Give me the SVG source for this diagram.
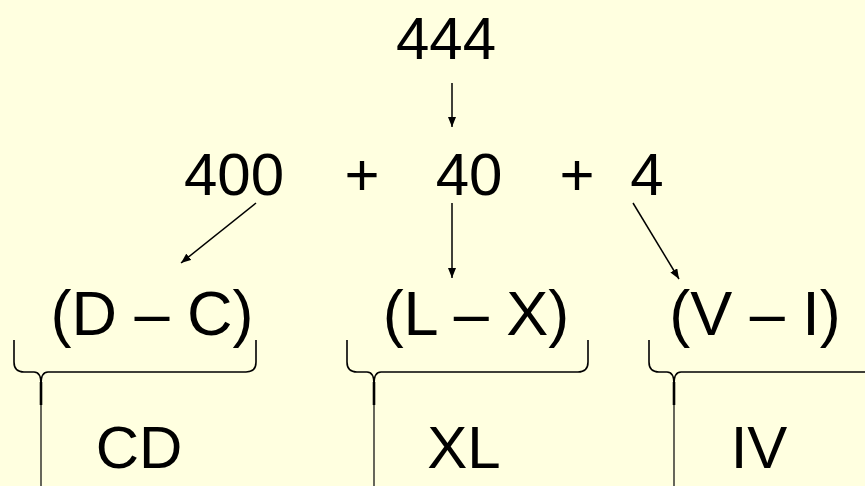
<svg xmlns="http://www.w3.org/2000/svg" width="865" height="486" viewBox="0 0 865 486">
  <style>
    .t { font-family: "Liberation Sans", Arial, sans-serif; font-size: 60px; fill: #000; text-anchor: middle; }
    .pair { font-size: 63px; }
    .arrow { stroke: #000; stroke-width: 1.5; fill: none; marker-end: url(#head); }
    .brace { stroke: #000; stroke-width: 1.6; fill: none; }
    .stem { stroke: #000; stroke-width: 1.2; fill: none; }
    .stemThick { stroke: #000; stroke-width: 2.6; fill: none; }
  </style>
  <defs>
    <marker id="head" viewBox="0 0 10 8" refX="10" refY="4" markerWidth="10" markerHeight="8" markerUnits="userSpaceOnUse" orient="auto">
      <path d="M0,0 L10,4 L0,8 z" fill="#000"/>
    </marker>
  </defs>
  <rect x="0" y="0" width="865" height="486" fill="#FFFFE0"/>

  <g id="n-444"><text class="t" x="446" y="59">444</text></g>
  <g id="n-400"><text class="t" x="234" y="195">400</text></g>
  <g id="plus1"><text class="t" x="362" y="195">+</text></g>
  <g id="n-40"><text class="t" x="469" y="195">40</text></g>
  <g id="plus2"><text class="t" x="577" y="195">+</text></g>
  <g id="n-4"><text class="t" x="647" y="195">4</text></g>

  <g id="n-dc"><text class="t pair" x="152" y="335">(D – C)</text></g>
  <g id="n-lx"><text class="t pair" x="476" y="335">(L – X)</text></g>
  <g id="n-vi"><text class="t pair" x="755" y="335">(V – I)</text></g>

  <g id="n-cd"><text class="t" x="139" y="468">CD</text></g>
  <g id="n-xl"><text class="t" x="464" y="468">XL</text></g>
  <g id="n-iv"><text class="t" x="759" y="468">IV</text></g>

  <g id="connectors">
    <line class="arrow" x1="452" y1="83" x2="452" y2="127"/>
    <line class="arrow" x1="256" y1="203" x2="181" y2="263"/>
    <line class="arrow" x1="452" y1="203" x2="452" y2="278"/>
    <line class="arrow" x1="633" y1="203" x2="679" y2="279"/>
  </g>

  <g id="braces">
    <path class="brace" d="M14,340 V362 Q14,372 24,372 H34 Q41,372 41,384 Q41,372 48,372 H246 Q256,372 256,362 V340"/>
    <line class="stemThick" x1="41" y1="382" x2="41" y2="405"/>
    <line class="stem" x1="41" y1="384" x2="41" y2="486"/>

    <path class="brace" d="M347,340 V362 Q347,372 357,372 H367 Q374,372 374,384 Q374,372 381,372 H578 Q588,372 588,362 V340"/>
    <line class="stemThick" x1="374" y1="382" x2="374" y2="405"/>
    <line class="stem" x1="374" y1="384" x2="374" y2="486"/>

    <path class="brace" d="M649,340 V362 Q649,372 659,372 H667 Q674,372 674,384 Q674,372 681,372 H865"/>
    <line class="stemThick" x1="674" y1="382" x2="674" y2="405"/>
    <line class="stem" x1="674" y1="384" x2="674" y2="486"/>
  </g>
</svg>
